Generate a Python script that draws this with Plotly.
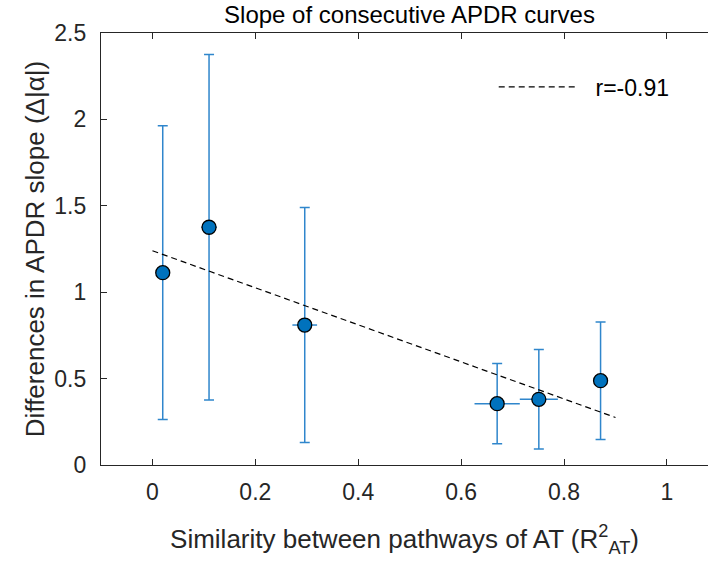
import plotly.graph_objects as go

# data
sim_x = [0.02, 0.11, 0.296, 0.67, 0.751, 0.871]
sim_x_err = [0.0, 0.015, 0.024, 0.044, 0.037, 0.0]
slope_diff = [1.113, 1.376, 0.81, 0.355, 0.38, 0.488]
slope_err = [0.85, 1.0, 0.68, 0.232, 0.288, 0.34]

fit_x = [0.0, 0.9]
fit_y = [1.24, 0.275]
fit_label = "r=-0.91"

x_ticks = [0, 0.2, 0.4, 0.6, 0.8, 1]
x_ticktext = ["0", "0.2", "0.4", "0.6", "0.8", "1"]
y_ticks = [0, 0.5, 1, 1.5, 2, 2.5]
y_ticktext = ["0", "0.5", "1", "1.5", "2", "2.5"]

AX = "#262626"
FONT = "Liberation Sans, Arial, sans-serif"

fig = go.Figure()
fig.add_trace(go.Scatter(
    x=sim_x, y=slope_diff, mode="markers",
    marker=dict(size=14, color="#0072BD", line=dict(color="black", width=1.3)),
    error_y=dict(type="data", array=slope_err, visible=True, color="#2f86cc",
                 thickness=1.5, width=5),
    error_x=dict(type="data", array=sim_x_err, visible=True, color="#2f86cc",
                 thickness=1.5, width=0),
    showlegend=False,
))
fig.add_trace(go.Scatter(
    x=fit_x, y=fit_y, mode="lines", name="&nbsp;&nbsp;" + fit_label,
    line=dict(color="black", width=1.2, dash="6px,4px"),
))

fig.update_layout(
    width=708, height=563,
    margin=dict(l=101, r=0, t=33, b=98),
    paper_bgcolor="white", plot_bgcolor="white",
    font=dict(family=FONT, size=23, color=AX),
    title=dict(text="Slope of consecutive APDR curves", x=(101 + 718) / 2 / 708,
               xanchor="center", y=1 - 15 / 563, yanchor="middle",
               font=dict(size=24, color="black")),
    legend=dict(x=0.647, y=0.875, xanchor="left", yanchor="middle",
                bgcolor="rgba(0,0,0,0)", font=dict(size=23, color="black"),
                itemwidth=79),
    showlegend=True,
)
fig.update_xaxes(
    range=[-0.1, 1.0798], tickvals=x_ticks, ticktext=x_ticktext,
    showgrid=False, zeroline=False, showline=True, linecolor=AX, linewidth=1.2,
    mirror="ticks", ticks="inside", ticklen=6, tickcolor=AX, tickwidth=1.2,
    ticklabelstandoff=6,
    title=dict(text="Similarity between pathways of AT (R<sup>2</sup><sub>AT</sub>)",
               font=dict(size=26, color=AX), standoff=26),
    tickfont=dict(size=23, color=AX),
)
fig.update_yaxes(
    range=[0, 2.5], tickvals=y_ticks, ticktext=y_ticktext,
    showgrid=False, zeroline=False, showline=True, linecolor=AX, linewidth=1.2,
    ticks="inside", ticklen=6, tickcolor=AX, tickwidth=1.2,
    ticklabelstandoff=9,
    title=dict(text="Differences in APDR slope (Δ|α|)",
               font=dict(size=26, color=AX), standoff=2),
    tickfont=dict(size=23, color=AX),
)
fig.write_html("out.html")
